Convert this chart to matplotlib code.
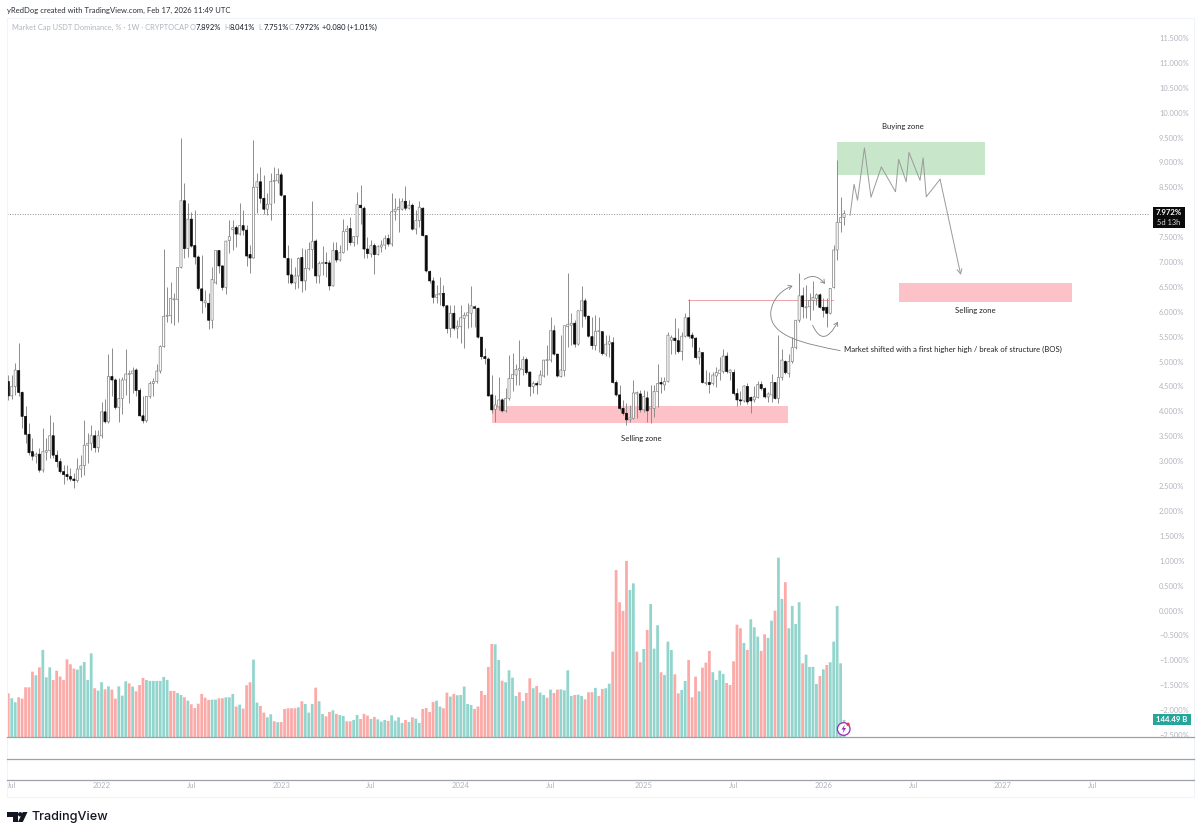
import matplotlib
matplotlib.use('Agg')
import matplotlib.pyplot as plt
from matplotlib.patches import Rectangle, Circle, Polygon, FancyArrowPatch
from matplotlib.path import Path

opens = [
    4.60, 4.31, 4.50, 4.82, 4.38, 3.90, 3.54, 3.19, 3.10, 3.14,
    2.82, 3.18, 3.21, 3.51, 3.12, 2.99, 2.79, 2.73, 2.69, 2.64,
    2.61, 2.84, 2.91, 3.32, 3.36, 3.51, 3.27, 3.51, 3.99, 3.79,
    4.70, 4.63, 4.08, 4.26, 4.63, 4.74, 4.76, 4.83, 4.42, 3.91,
    3.81, 4.30, 4.56, 4.60, 4.81, 5.30, 5.91, 5.92, 6.24, 6.25,
    6.89, 8.23, 7.27, 7.86, 7.33, 7.10, 6.46, 6.18, 6.17, 5.83,
    6.58, 7.23, 6.92, 6.49, 7.43, 7.65, 7.69, 7.56, 7.73, 7.64,
    7.15, 7.08, 8.50, 8.61, 8.28, 8.06, 8.16, 8.62, 8.63, 8.75,
    8.33, 7.07, 6.74, 6.58, 6.72, 7.09, 6.62, 6.87, 7.25, 7.42,
    6.72, 6.97, 6.99, 6.98, 6.52, 7.23, 7.04, 7.19, 7.61, 7.67,
    7.39, 7.51, 8.14, 8.08, 7.26, 7.16, 7.33, 7.15, 7.30, 7.34,
    7.47, 7.36, 8.01, 8.05, 8.06, 8.22, 8.08, 8.14, 7.66, 7.83,
    8.08, 7.53, 6.81, 6.62, 6.29, 6.34, 6.37, 6.12, 5.66, 5.97,
    5.67, 5.70, 5.87, 5.92, 5.97, 6.10, 6.07, 5.49, 5.10, 5.05,
    4.33, 4.04, 4.09, 4.23, 4.01, 4.26, 4.66, 4.73, 4.83, 4.84,
    5.04, 4.79, 4.50, 4.56, 4.54, 4.71, 5.02, 5.03, 5.62, 5.15,
    4.70, 4.82, 5.70, 5.73, 5.77, 5.35, 6.02, 6.22, 5.91, 5.50,
    5.32, 5.60, 5.60, 5.15, 5.35, 5.38, 4.58, 4.33, 4.06, 3.96,
    3.83, 3.86, 4.35, 4.35, 4.03, 4.27, 4.05, 4.06, 4.40, 4.58,
    4.53, 4.60, 5.43, 5.47, 5.42, 5.20, 5.51, 5.88, 5.53, 5.47,
    5.08, 5.18, 4.56, 4.58, 4.56, 4.71, 4.76, 4.80, 5.11, 4.78,
    4.78, 4.36, 4.23, 4.21, 4.50, 4.28, 4.23, 4.28, 4.54, 4.46,
    4.29, 4.33, 4.58, 4.26, 4.68, 5.00, 4.76, 5.00, 5.28, 5.83,
    6.32, 6.08, 6.10, 6.23, 6.27, 6.34, 6.09, 6.09, 5.97, 6.49,
    7.24, 7.79, 7.892]
highs = [
    4.73, 4.73, 4.98, 5.37, 4.40, 4.11, 3.76, 3.46, 3.19, 3.26,
    3.66, 3.46, 3.93, 3.79, 3.22, 3.06, 2.92, 2.92, 2.86, 2.76,
    3.06, 3.12, 3.83, 3.56, 3.73, 3.63, 3.63, 4.19, 4.24, 5.15,
    5.27, 4.66, 4.66, 4.70, 5.25, 4.83, 4.90, 4.88, 4.46, 4.30,
    4.31, 4.60, 4.66, 4.96, 5.33, 7.27, 6.50, 6.60, 6.37, 6.90,
    9.48, 8.58, 8.18, 8.01, 8.04, 7.14, 7.14, 6.44, 6.37, 6.90,
    7.25, 7.25, 6.94, 7.43, 7.84, 7.84, 7.74, 8.19, 8.04, 7.74,
    7.34, 9.45, 8.78, 8.91, 8.75, 8.38, 8.78, 8.90, 8.88, 8.81,
    8.34, 7.34, 7.07, 6.90, 7.11, 7.29, 7.27, 7.41, 8.22, 7.47,
    7.01, 7.33, 7.21, 7.04, 7.41, 7.41, 7.34, 7.86, 7.74, 7.91,
    7.52, 8.41, 8.54, 8.12, 7.51, 7.45, 7.39, 7.34, 7.44, 7.54,
    7.56, 8.38, 8.28, 8.28, 8.28, 8.52, 8.24, 8.18, 8.04, 8.23,
    8.11, 7.54, 6.84, 6.70, 6.54, 6.70, 6.54, 6.13, 6.13, 6.13,
    5.83, 6.13, 6.00, 6.17, 6.52, 6.13, 6.10, 5.50, 5.27, 5.10,
    4.73, 4.33, 4.70, 4.26, 4.46, 5.13, 5.18, 4.96, 5.43, 5.12,
    5.10, 4.80, 4.60, 4.60, 4.83, 5.03, 5.33, 5.90, 5.73, 5.16,
    5.53, 5.73, 6.77, 5.97, 5.83, 6.03, 6.52, 6.27, 5.93, 5.90,
    5.93, 5.90, 5.62, 5.53, 5.53, 5.50, 4.63, 4.53, 4.23, 4.16,
    4.13, 4.63, 4.40, 4.43, 4.43, 4.40, 4.53, 4.53, 4.96, 4.70,
    4.70, 5.60, 5.53, 5.87, 5.67, 5.60, 5.97, 6.25, 5.60, 5.50,
    5.30, 5.20, 4.83, 4.80, 4.80, 4.90, 5.10, 5.26, 5.20, 4.86,
    4.86, 4.46, 4.40, 4.52, 4.56, 4.31, 4.50, 4.60, 4.60, 4.48,
    4.39, 4.75, 4.59, 5.53, 5.26, 5.03, 5.16, 5.50, 5.84, 6.77,
    6.50, 6.54, 6.37, 6.62, 6.37, 6.37, 6.27, 6.27, 6.48, 7.34,
    9.05, 8.31, 8.041]
lows = [
    4.23, 4.24, 4.33, 4.30, 3.66, 3.37, 3.12, 3.02, 2.96, 2.79,
    2.79, 3.02, 3.06, 3.06, 2.89, 2.76, 2.55, 2.62, 2.60, 2.47,
    2.59, 2.69, 2.72, 2.96, 3.22, 3.19, 3.19, 3.46, 3.76, 3.77,
    4.30, 4.04, 3.79, 3.95, 4.33, 4.16, 4.36, 4.30, 3.90, 3.76,
    3.79, 4.26, 4.30, 4.56, 4.78, 5.29, 5.80, 5.78, 5.73, 5.80,
    6.88, 7.07, 7.10, 7.31, 6.95, 6.44, 5.97, 6.10, 5.65, 5.67,
    6.55, 6.77, 6.44, 6.36, 7.19, 7.24, 7.31, 7.54, 7.54, 6.92,
    6.77, 7.07, 7.98, 8.18, 7.96, 7.94, 7.84, 8.18, 8.58, 8.33,
    7.07, 6.58, 6.56, 6.45, 6.47, 6.40, 6.44, 6.84, 6.87, 6.57,
    6.58, 6.74, 6.70, 6.44, 6.51, 7.00, 7.02, 7.18, 7.24, 7.34,
    7.32, 7.37, 7.76, 7.07, 7.09, 7.10, 6.76, 7.14, 7.21, 7.27,
    7.33, 7.33, 7.84, 7.61, 8.04, 8.04, 8.06, 7.64, 7.57, 7.71,
    7.52, 6.80, 6.57, 6.18, 6.17, 6.14, 6.10, 5.57, 5.50, 5.63,
    5.47, 5.37, 5.27, 5.67, 5.70, 5.70, 5.47, 5.06, 4.96, 4.30,
    3.96, 3.79, 4.03, 3.99, 3.99, 4.23, 4.40, 4.53, 4.53, 4.73,
    4.76, 4.31, 4.37, 4.34, 4.53, 4.70, 4.73, 5.00, 5.13, 4.70,
    4.69, 4.71, 5.29, 5.33, 5.29, 5.33, 5.70, 5.85, 5.49, 5.26,
    5.23, 5.20, 5.13, 5.11, 5.10, 4.56, 4.31, 4.03, 3.93, 3.73,
    3.79, 3.84, 3.86, 3.99, 3.99, 3.79, 3.76, 3.89, 4.09, 4.36,
    4.43, 4.58, 5.16, 5.16, 5.18, 5.03, 5.50, 5.47, 5.30, 5.06,
    4.96, 4.57, 4.53, 4.36, 4.53, 4.48, 4.63, 4.78, 4.78, 4.63,
    4.33, 4.11, 4.13, 4.19, 4.15, 3.96, 4.19, 4.26, 4.43, 4.26,
    4.19, 4.19, 4.24, 4.16, 4.63, 4.75, 4.70, 4.98, 5.26, 5.80,
    5.87, 5.87, 5.83, 6.03, 6.13, 6.07, 5.90, 5.70, 5.95, 6.47,
    7.04, 7.61, 7.751]
closes = [
    4.31, 4.50, 4.83, 4.38, 3.90, 3.54, 3.17, 3.10, 3.14, 2.82,
    3.19, 3.21, 3.51, 3.12, 2.99, 2.79, 2.73, 2.69, 2.64, 2.61,
    2.84, 2.91, 3.32, 3.36, 3.51, 3.27, 3.51, 3.99, 3.79, 4.70,
    4.63, 4.08, 4.26, 4.63, 4.75, 4.76, 4.81, 4.42, 3.91, 3.81,
    4.30, 4.56, 4.60, 4.81, 5.30, 5.91, 5.92, 6.27, 6.26, 6.89,
    8.23, 7.27, 7.86, 7.32, 7.10, 6.47, 6.22, 6.22, 5.83, 6.65,
    7.23, 6.92, 6.49, 7.42, 7.51, 7.69, 7.56, 7.73, 7.64, 7.12,
    7.08, 8.50, 8.61, 8.28, 8.06, 8.16, 8.62, 8.63, 8.76, 8.34,
    7.09, 6.74, 6.58, 6.72, 7.07, 6.62, 6.87, 7.25, 7.41, 6.72,
    6.97, 6.99, 6.97, 6.52, 7.23, 7.04, 7.19, 7.61, 7.66, 7.39,
    7.51, 8.15, 8.09, 7.26, 7.17, 7.33, 7.15, 7.31, 7.34, 7.47,
    7.36, 8.01, 8.06, 8.10, 8.21, 8.08, 8.14, 7.66, 7.83, 8.10,
    7.53, 6.82, 6.62, 6.29, 6.34, 6.37, 6.12, 5.66, 5.97, 5.67,
    5.71, 5.88, 5.93, 5.98, 6.12, 6.07, 5.49, 5.10, 5.06, 4.31,
    4.03, 4.13, 4.23, 4.01, 4.26, 4.66, 4.74, 4.84, 4.86, 5.04,
    4.78, 4.50, 4.56, 4.53, 4.73, 5.03, 5.03, 5.62, 5.15, 4.71,
    4.83, 5.72, 5.75, 5.77, 5.35, 6.02, 6.22, 5.91, 5.51, 5.32,
    5.61, 5.62, 5.16, 5.35, 5.40, 4.58, 4.33, 4.06, 3.96, 3.83,
    3.87, 4.37, 4.38, 4.03, 4.30, 4.01, 4.09, 4.40, 4.56, 4.55,
    4.60, 5.53, 5.48, 5.42, 5.20, 5.51, 5.88, 5.51, 5.47, 5.08,
    5.20, 4.58, 4.58, 4.54, 4.73, 4.78, 4.83, 5.11, 4.80, 4.83,
    4.36, 4.23, 4.21, 4.51, 4.19, 4.21, 4.29, 4.54, 4.46, 4.29,
    4.35, 4.58, 4.26, 4.68, 5.03, 4.78, 5.00, 5.28, 5.83, 6.32,
    6.10, 6.10, 6.23, 6.29, 6.34, 6.09, 6.03, 5.97, 6.47, 7.24,
    7.79, 7.89, 7.972]

# volume in billions
volumes = [
    365, 324, 291, 332, 321, 415, 415, 545, 515, 581,
    725, 498, 581, 476, 553, 504, 476, 647, 606, 570,
    562, 595, 625, 476, 697, 407, 387, 457, 398, 423,
    396, 321, 423, 346, 465, 448, 421, 382, 434, 493,
    476, 468, 468, 468, 468, 501, 476, 385, 385, 368,
    351, 332, 304, 274, 243, 279, 360, 329, 310, 313,
    313, 324, 324, 332, 332, 360, 255, 271, 238, 432,
    457, 645, 288, 260, 205, 166, 191, 133, 125, 127,
    235, 241, 241, 241, 249, 299, 277, 205, 277, 412,
    299, 194, 174, 210, 224, 194, 185, 177, 133, 133,
    144, 185, 152, 194, 180, 152, 169, 149, 130, 144,
    136, 183, 138, 166, 119, 144, 127, 166, 155, 119,
    235, 243, 210, 293, 304, 255, 241, 371, 338, 360,
    349, 351, 421, 277, 268, 235, 255, 385, 351, 584,
    775, 772, 642, 470, 457, 556, 495, 343, 374, 302,
    368, 490, 407, 426, 371, 351, 329, 396, 368, 396,
    398, 390, 556, 343, 351, 354, 343, 315, 374, 374,
    410, 343, 401, 407, 445, 711, 1389, 1121, 1049, 1464,
    1223, 1278, 711, 623, 733, 891, 1107, 736, 930, 540,
    517, 794, 725, 523, 365, 393, 468, 642, 332, 504,
    382, 578, 620, 717, 540, 476, 553, 526, 451, 434,
    631, 935, 905, 783, 725, 980, 913, 836, 717, 855,
    825, 968, 1051, 1491, 1148, 1287, 905, 1090, 941, 1121,
    614, 686, 584, 584, 443, 509, 564, 600, 623, 794,
    1090, 614, 144.49]
volume_sides = (
    "rggrrrrrgr" "gggrrrrrrr" "gggggrggrg" "rrgggrgrrr" "gggggggrrg"
    "grgrrrrrrg" "grrgggrgrr" "rggrrggrgr" "rrrrgrgggr" "ggrrgrggrr"
    "ggrrrgrggg" "rggggrgrgg" "rrrrggrrgr" "gggggrrrrr" "rggrggggrg"
    "rrgrggrgrr" "ggggrggrrr" "grrggrrrrr" "ggrrgrgggr" "gggrrggrrr"
    "grrrggggrr" "rrrgrgggrr" "ggrggrgggg" "rggggrgrgg" "ggg")

price_ticks = [11.5 - 0.5 * k for k in range(29)]
time_ticks = [1, 27, 53, 79, 105, 131, 157, 184, 210, 236, 262, 288, 314]
time_labels = ['Jul', '2022', 'Jul', '2023', 'Jul', '2024', 'Jul', '2025', 'Jul', '2026', 'Jul', '2027', 'Jul']

# zones: first bar, last bar, low, high
buy_zone = (240.0, 282.9, 8.745, 9.41)
sell_zone_low = (140.1, 225.9, 3.76, 4.11)
sell_zone_high = (258.0, 308.0, 6.20, 6.57)
bos_line = (196.8, 238.8, 6.245)
proj_x = [243.75, 244.9, 245.9, 247.9, 249.8, 252.8, 256.9, 257.8, 260.0, 260.8, 264.0, 264.9, 265.8, 269.8]
proj_y = [7.94, 8.56, 8.24, 9.29, 8.30, 8.91, 8.41, 9.06, 8.61, 9.20, 8.64, 9.09, 8.31, 8.66]
proj_end = (275.8, 6.74)

GREY = '#b2b5be'
plt.rcParams['font.family'] = 'Lato'

W, H = 1200, 836
fig = plt.figure(figsize=(W / 100, H / 100), dpi=100, facecolor='white')
rect = [7 / W, (H - 737.3) / H, 1142 / W, 719.3 / H]

vol_ax = fig.add_axes(rect, zorder=1)
ax = fig.add_axes(rect, zorder=2)
ax.patch.set_visible(False)

idx = list(range(len(closes)))
xlim = (-0.376, 330.3)

# volume first so the candles sit on top
colors = ['#93d5cd' if s == 'g' else '#fbaaa8' for s in volume_sides]
vol_bars = vol_ax.bar(idx, volumes, width=0.8, color=colors, linewidth=0)
for b in vol_bars:
    b.set_snap(False)
vol_ax.set_xlim(*xlim)
vol_ax.set_ylim(0, 5970)
vol_ax.axis('off')

ax.axhline(7.972, color='#8a8e97', lw=0.7, ls=(0, (1, 1.6)), zorder=1)

for x0, x1, lo, hi, col in [(*buy_zone, '#c8e6c9'), (*sell_zone_low, '#fcc2c7'), (*sell_zone_high, '#fcc2c7')]:
    ax.add_patch(Rectangle((x0, lo), x1 - x0, hi - lo, facecolor=col, edgecolor='none', zorder=1.5))

ax.plot(bos_line[:2], [bos_line[2]] * 2, color='#eda5aa', lw=0.7, zorder=1.8)

ax.vlines(idx, lows, highs, color='#8c8c8c', lw=0.7, zorder=2)
bottoms = [min(o, c) for o, c in zip(opens, closes)]
heights = [max(abs(c - o), 0.02) for o, c in zip(opens, closes)]
body_cols = ['white' if c >= o else '#0a0a0a' for o, c in zip(opens, closes)]
edge_cols = ['#808080' if c >= o else '#0a0a0a' for o, c in zip(opens, closes)]
bodies = ax.bar(idx, heights, bottom=bottoms, width=0.62, color=body_cols, edgecolor=edge_cols, linewidth=0.5, zorder=3)
for b in bodies:
    b.set_snap(False)

ax.plot(proj_x, proj_y, color='#9a9a9a', lw=0.7, zorder=4)
ax.annotate('', xy=proj_end, xytext=(proj_x[-1], proj_y[-1]), zorder=4,
            arrowprops=dict(arrowstyle='->,head_length=0.35,head_width=0.18', color='#9a9a9a', lw=0.7,
                            shrinkA=0, shrinkB=0))

# curved arrows around the break of structure
C4, C3, M = Path.CURVE4, Path.CURVE3, Path.MOVETO
curves = [
    ([(240.9, 5.22), (231.2, 5.35), (220.1, 5.50), (220.8, 6.00), (221.3, 6.27), (224.0, 6.44), (227.1, 6.52)],
     [M, C4, C4, C4, C4, C4, C4]),
    ([(230.5, 6.65), (233.6, 6.80), (236.5, 6.56)], [M, C3, C3]),
    ([(232.9, 5.73), (236.0, 5.25), (240.2, 5.80)], [M, C3, C3]),
]
for pts, codes in curves:
    ax.add_patch(FancyArrowPatch(path=Path(pts, codes), arrowstyle='->,head_length=2.6,head_width=1.6',
                                 color='#808080', lw=0.6, zorder=5, shrinkA=0, shrinkB=0))

ax.set_xlim(*xlim)
ax.set_ylim(-2.546, 11.90)
for s in ax.spines.values():
    s.set_visible(False)
ax.yaxis.tick_right()
ax.set_yticks(price_ticks)
# the 8% label sits behind the last price box in the reference
ax.set_yticklabels(['' if v == 8.0 else f'{v:.3f}%'.replace('-', '\u2212') for v in price_ticks],
                   fontsize=5.4, color=GREY)
ax.tick_params(axis='y', length=0, pad=7.2)
ax.set_xticks(time_ticks)
ax.set_xticklabels(time_labels, fontsize=5.6, color=GREY)
ax.tick_params(axis='x', length=0, pad=32)

# overlay in figure pixels for the chrome around the chart
ov = fig.add_axes([0, 0, 1, 1], zorder=3)
ov.set_xlim(0, W)
ov.set_ylim(H, 0)
ov.axis('off')
ov.patch.set_visible(False)

ov.add_patch(Rectangle((1150, 737.6), 44, 20, facecolor='white', edgecolor='none'))
ov.add_patch(Rectangle((7, 18), 1187, 779, fill=False, edgecolor='#f0f3fa', lw=0.8))
for y in (737.3, 758.5, 779.5):
    ov.plot([7, 1194], [y, y], color='#9ea1a9', lw=0.9)

ov.text(7, 10, 'yRedDog created with TradingView.com, Feb 17, 2026 11:49 UTC', fontsize=5.5, color='#2a2e39', va='center')
ov.text(11.7, 27, 'Market Cap USDT Dominance, % \u00b7 1W \u00b7 CRYPTOCAP', fontsize=5.4, color=GREY, va='center')
for x, letter, value in [(190, 'O', '7.892%'), (224, 'H', '8.041%'), (258, 'L', '7.751%'), (289, 'C', '7.972%')]:
    ov.text(x, 27, letter, fontsize=5.4, color=GREY, va='center')
    ov.text(x + 5.5, 27, value, fontsize=5.4, color='#131722', va='center')
ov.text(322.5, 27, '+0.080 (+1.01%)', fontsize=5.4, color='#131722', va='center')

ov.text(903, 127, 'Buying zone', fontsize=5.6, color='#222222', ha='center', va='center')
ov.text(975.5, 310, 'Selling zone', fontsize=5.6, color='#222222', ha='center', va='center')
ov.text(641, 439, 'Selling zone', fontsize=5.6, color='#222222', ha='center', va='center')
ov.text(844.5, 349.5, 'Market shifted with a first higher high / break of structure (BOS)', fontsize=5.6, color='#222222', va='center')

# last price and volume labels
ov.add_patch(Rectangle((1153, 207), 32, 21, facecolor='#0b0b0b', edgecolor='none'))
ov.text(1169, 212.7, '7.972%', fontsize=5.6, color='white', fontweight='bold', ha='center', va='center')
ov.text(1169, 222.5, '5d 13h', fontsize=5.4, color='#d8d8d8', ha='center', va='center')
ov.add_patch(Rectangle((1153, 714), 37.5, 11, facecolor='#26a69a', edgecolor='none'))
ov.text(1171.8, 719.5, '144.49 B', fontsize=5.6, color='white', fontweight='bold', ha='center', va='center')

# earnings-style marker at the last bar
ov.add_patch(Circle((843.7, 729), 6.3, facecolor='white', edgecolor='#9c27b0', lw=0.9))
ov.add_patch(Polygon([(845, 724.5), (841.5, 729.5), (843.7, 729.5), (842.5, 733.5), (846, 728), (843.8, 728)],
                     closed=True, facecolor='#9c27b0', edgecolor='none'))
ov.add_patch(Circle((848, 724.3), 1.7, facecolor='#f23645', edgecolor='none'))

# TradingView logo
ov.add_patch(Polygon([(7, 812), (17.5, 812), (17.5, 822), (13, 822), (13, 816.5), (7, 816.5)], closed=True, facecolor='#131722', edgecolor='none'))
ov.add_patch(Circle((20.2, 814.3), 2.2, facecolor='#131722', edgecolor='none'))
ov.add_patch(Polygon([(22.8, 812), (27.5, 812), (22.8, 822), (18, 822)], closed=True, facecolor='#131722', edgecolor='none'))
ov.text(31.5, 817, 'TradingView', fontsize=9.1, color='#131722', family='Inter', fontweight='medium', va='center')

fig.savefig('out.png', dpi=100)
